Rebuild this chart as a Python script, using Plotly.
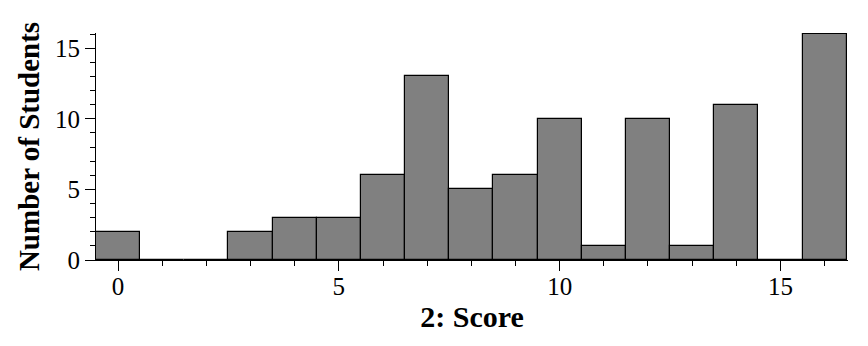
import plotly.graph_objects as go

scores = list(range(17))
counts = [2, 0, 0, 2, 3, 3, 6, 13, 5, 6, 10, 1, 10, 1, 11, 0, 16]
x_ticks = [0, 5, 10, 15]
y_ticks = [0, 5, 10, 15]
x_title = "2: Score"
y_title = "Number of Students"

font_family = "Liberation Serif, Times New Roman, serif"

fig = go.Figure(go.Bar(
    x=scores, y=counts, width=1, cliponaxis=False,
    marker=dict(color="#808080", line=dict(color="black", width=1.2)),
))

fig.update_layout(
    width=868, height=346,
    margin=dict(l=96, r=20, t=33, b=86),
    plot_bgcolor="white", paper_bgcolor="white",
    showlegend=False,
    bargap=0,
    font=dict(family=font_family, color="black"),
)
fig.update_xaxes(
    range=[-0.5, 16.53],
    tickvals=x_ticks, ticks="outside", ticklen=10, tickwidth=1, tickcolor="black",
    showline=True, linecolor="black", linewidth=1,
    showgrid=False, zeroline=False,
    tickfont=dict(size=25, family=font_family),
    ticklabelstandoff=-6,
    minor=dict(dtick=1, tick0=0, ticks="outside", ticklen=5, tickcolor="black", showgrid=False),
    title=dict(text=f"<b>{x_title}</b>", font=dict(size=30, family=font_family), standoff=6),
)
fig.update_yaxes(
    range=[0, 16.08],
    tickvals=y_ticks, ticks="outside", ticklen=10, tickwidth=1, tickcolor="black",
    showline=True, linecolor="black", linewidth=1,
    showgrid=False, zeroline=False,
    tickfont=dict(size=25, family=font_family),
    minor=dict(dtick=1, tick0=0, ticks="outside", ticklen=5, tickcolor="black", showgrid=False),
    title=dict(text=f"<b>{y_title}</b>", font=dict(size=29, family=font_family), standoff=6),
)

fig.write_html("out.html")
